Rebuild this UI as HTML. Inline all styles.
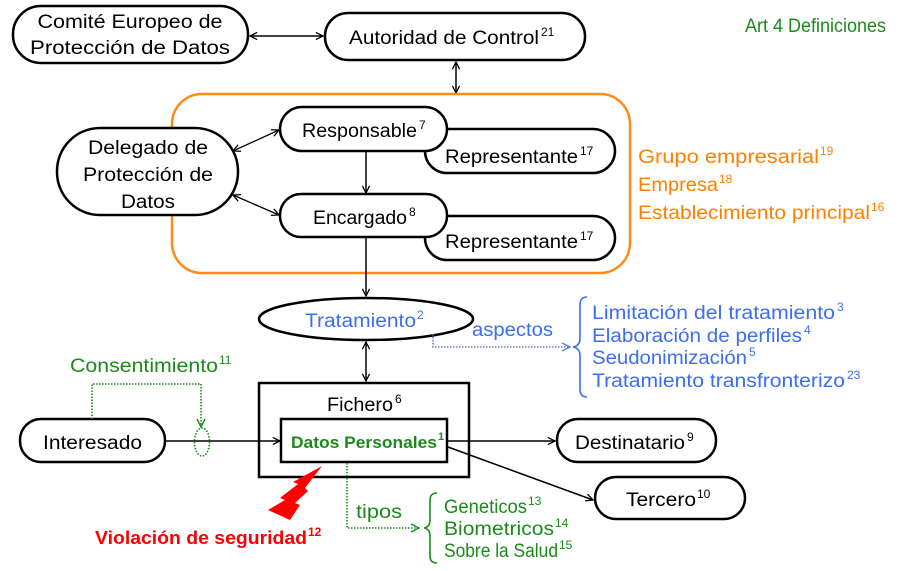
<!DOCTYPE html>
<html><head><meta charset="utf-8"><style>
html,body{margin:0;padding:0;background:#fff;}
svg{display:block;font-family:"Liberation Sans",sans-serif;}
</style></head><body>
<svg width="900" height="571" viewBox="0 0 900 571" xmlns="http://www.w3.org/2000/svg">
<defs>
<marker id="a" viewBox="0 0 10 10" refX="9" refY="5" markerWidth="9" markerHeight="9" orient="auto-start-reverse" markerUnits="userSpaceOnUse"><path d="M1,1 L9,5 L1,9" fill="none" stroke="#000" stroke-width="1.4"/></marker>
<marker id="g" viewBox="0 0 10 10" refX="9" refY="5" markerWidth="10" markerHeight="10" orient="auto" markerUnits="userSpaceOnUse"><path d="M1,1 L9,5 L1,9" fill="none" stroke="#1a8a1a" stroke-width="1.4"/></marker>
<marker id="b" viewBox="0 0 10 10" refX="9" refY="5" markerWidth="10" markerHeight="10" orient="auto" markerUnits="userSpaceOnUse"><path d="M1,1 L9,5 L1,9" fill="none" stroke="#5b7fc8" stroke-width="1.4"/></marker>
</defs>
<g font-size="19" lengthAdjust="spacingAndGlyphs">
<!-- top -->
<rect x="13" y="6" width="235" height="57" rx="28" fill="#fff" stroke="#000" stroke-width="2.5"/>
<text x="130" y="28" text-anchor="middle" textLength="185" lengthAdjust="spacingAndGlyphs">Comité Europeo de</text>
<text x="130" y="54" text-anchor="middle" textLength="200" lengthAdjust="spacingAndGlyphs">Protección de Datos</text>
<rect x="325" y="13" width="260" height="47" rx="23" fill="#fff" stroke="#000" stroke-width="2.5"/>
<text x="349" y="44" textLength="190" lengthAdjust="spacingAndGlyphs">Autoridad de Control</text><text x="541" y="36" font-size="12">21</text>
<line x1="250" y1="36" x2="323" y2="36" stroke="#000" stroke-width="1.5" marker-start="url(#a)" marker-end="url(#a)"/>
<line x1="456" y1="62" x2="456" y2="93" stroke="#000" stroke-width="1.5" marker-start="url(#a)" marker-end="url(#a)"/>
<text x="745" y="32" font-size="19" fill="#1a8a1a" textLength="141" lengthAdjust="spacingAndGlyphs">Art 4 Definiciones</text>

<!-- orange -->
<rect x="172" y="94" width="458" height="179" rx="30" fill="none" stroke="#ff8c1a" stroke-width="2.5"/>
<g fill="#ff8000">
<text x="638" y="163" textLength="181" lengthAdjust="spacingAndGlyphs">Grupo empresarial</text><text x="820" y="155" font-size="12">19</text>
<text x="638" y="191" textLength="80" lengthAdjust="spacingAndGlyphs">Empresa</text><text x="719" y="183" font-size="12">18</text>
<text x="638" y="219" textLength="232" lengthAdjust="spacingAndGlyphs">Establecimiento principal</text><text x="871" y="211" font-size="12">16</text>
</g>
<rect x="57" y="128" width="181" height="87" rx="43" fill="#fff" stroke="#000" stroke-width="2.5"/>
<text x="148" y="154" text-anchor="middle" textLength="120" lengthAdjust="spacingAndGlyphs">Delegado de</text>
<text x="148" y="181" text-anchor="middle" textLength="130" lengthAdjust="spacingAndGlyphs">Protección de</text>
<text x="148" y="208" text-anchor="middle" textLength="54" lengthAdjust="spacingAndGlyphs">Datos</text>

<rect x="425" y="129" width="190" height="44" rx="22" fill="#fff" stroke="#000" stroke-width="2.5"/>
<text x="445" y="163" textLength="133" lengthAdjust="spacingAndGlyphs">Representante</text><text x="580" y="155" font-size="12">17</text>
<rect x="280" y="107" width="167" height="44" rx="22" fill="#fff" stroke="#000" stroke-width="2.5"/>
<text x="302" y="137" textLength="115" lengthAdjust="spacingAndGlyphs">Responsable</text><text x="419" y="129" font-size="12">7</text>

<rect x="425" y="216" width="190" height="44" rx="22" fill="#fff" stroke="#000" stroke-width="2.5"/>
<text x="445" y="248" textLength="133" lengthAdjust="spacingAndGlyphs">Representante</text><text x="580" y="240" font-size="12">17</text>
<rect x="280" y="194" width="167" height="43" rx="21" fill="#fff" stroke="#000" stroke-width="2.5"/>
<text x="313" y="224" textLength="94" lengthAdjust="spacingAndGlyphs">Encargado</text><text x="409" y="216" font-size="12">8</text>

<line x1="233" y1="151" x2="279" y2="130" stroke="#000" stroke-width="1.3" marker-start="url(#a)" marker-end="url(#a)"/>
<line x1="233" y1="195" x2="279" y2="215" stroke="#000" stroke-width="1.3" marker-start="url(#a)" marker-end="url(#a)"/>
<line x1="366" y1="152" x2="366" y2="193" stroke="#000" stroke-width="1.5" marker-end="url(#a)"/>
<line x1="366" y1="238" x2="366" y2="296" stroke="#000" stroke-width="1.5" marker-end="url(#a)"/>

<!-- tratamiento -->
<ellipse cx="366" cy="319" rx="107" ry="21" fill="#fff" stroke="#000" stroke-width="2.5"/>
<text x="305" y="327" fill="#3d6ef0" textLength="111" lengthAdjust="spacingAndGlyphs">Tratamiento</text><text x="417" y="319" font-size="12" fill="#3d6ef0">2</text>
<line x1="366" y1="342" x2="366" y2="381" stroke="#000" stroke-width="1.5" marker-start="url(#a)" marker-end="url(#a)"/>
<polyline points="433,334 433,347 570,347" fill="none" stroke="#5b7fc8" stroke-width="1.6" stroke-dasharray="1.5,1.5" marker-end="url(#b)"/>
<text x="472" y="336" fill="#3d6ef0" textLength="81" lengthAdjust="spacingAndGlyphs">aspectos</text>
<path d="M587,297 Q580,297 580,305 L580,338 Q580,346 573,347 Q580,348 580,356 L580,389 Q580,397 587,397" fill="none" stroke="#3d6ef0" stroke-width="1.6"/>
<g fill="#3d6ef0">
<text x="592" y="319" textLength="243" lengthAdjust="spacingAndGlyphs">Limitación del tratamiento</text><text x="837" y="311" font-size="12">3</text>
<text x="592" y="342" textLength="210" lengthAdjust="spacingAndGlyphs">Elaboración de perfiles</text><text x="804" y="334" font-size="12">4</text>
<text x="592" y="364" textLength="155" lengthAdjust="spacingAndGlyphs">Seudonimización</text><text x="749" y="356" font-size="12">5</text>
<text x="592" y="387" textLength="253" lengthAdjust="spacingAndGlyphs">Tratamiento transfronterizo</text><text x="847" y="379" font-size="12">23</text>
</g>

<!-- fichero -->
<rect x="259" y="383" width="210" height="94" fill="#fff" stroke="#000" stroke-width="2.5"/>
<text x="327" y="411" textLength="66" lengthAdjust="spacingAndGlyphs">Fichero</text><text x="395" y="403" font-size="12">6</text>
<rect x="281" y="419" width="166" height="43" fill="#fff" stroke="#000" stroke-width="2.5"/>
<text x="291" y="448" font-size="17" font-weight="bold" fill="#1a8a1a" textLength="146" lengthAdjust="spacingAndGlyphs">Datos Personales</text><text x="438" y="440" font-size="11" font-weight="bold" fill="#1a8a1a">1</text>

<rect x="20" y="419" width="145" height="43" rx="21" fill="#fff" stroke="#000" stroke-width="2.5"/>
<text x="43" y="449" textLength="99" lengthAdjust="spacingAndGlyphs">Interesado</text>
<line x1="166" y1="441" x2="280" y2="441" stroke="#000" stroke-width="1.5" marker-end="url(#a)"/>
<ellipse cx="202" cy="442" rx="7.5" ry="14" fill="none" stroke="#1a8a1a" stroke-width="1.6" stroke-dasharray="1.5,1.5"/>
<polyline points="92,419 92,384 201,384 201,427" fill="none" stroke="#1a8a1a" stroke-width="1.6" stroke-dasharray="1.5,1.5" marker-end="url(#g)"/>
<text x="70" y="372" fill="#1a8a1a" textLength="148" lengthAdjust="spacingAndGlyphs">Consentimiento</text><text x="219" y="364" font-size="12" fill="#1a8a1a">11</text>

<rect x="557" y="419" width="159" height="43" rx="21" fill="#fff" stroke="#000" stroke-width="2.5"/>
<text x="575" y="449" textLength="110" lengthAdjust="spacingAndGlyphs">Destinatario</text><text x="687" y="441" font-size="12">9</text>
<line x1="448" y1="441" x2="555" y2="441" stroke="#000" stroke-width="1.5" marker-end="url(#a)"/>
<rect x="595" y="477" width="150" height="42" rx="21" fill="#fff" stroke="#000" stroke-width="2.5"/>
<text x="626" y="506" textLength="70" lengthAdjust="spacingAndGlyphs">Tercero</text><text x="697" y="498" font-size="12">10</text>
<line x1="448" y1="447" x2="593" y2="500" stroke="#000" stroke-width="1.5" marker-end="url(#a)"/>

<!-- tipos -->
<polyline points="347,463 347,528 419,528" fill="none" stroke="#1a8a1a" stroke-width="1.6" stroke-dasharray="1.5,1.5" marker-end="url(#g)"/>
<text x="356" y="518" fill="#1a8a1a" textLength="46" lengthAdjust="spacingAndGlyphs">tipos</text>
<path d="M437,493 Q430,493 430,500 L430,520 Q430,527 424,528 Q430,529 430,536 L430,556 Q430,563 437,563" fill="none" stroke="#1a8a1a" stroke-width="1.6"/>
<g fill="#1a8a1a">
<text x="444" y="513" textLength="83" lengthAdjust="spacingAndGlyphs">Geneticos</text><text x="528" y="505" font-size="12">13</text>
<text x="444" y="535" textLength="110" lengthAdjust="spacingAndGlyphs">Biometricos</text><text x="555" y="527" font-size="12">14</text>
<text x="444" y="557" textLength="114" lengthAdjust="spacingAndGlyphs">Sobre la Salud</text><text x="559" y="549" font-size="12">15</text>
</g>

<!-- lightning -->
<polygon points="322,466 293,482 298,484 280,498 285,500 268,510 290,520 300,505 295,503 308,491 305,488" fill="#ff0000"/>
<text x="95" y="544" font-size="18" font-weight="bold" fill="#ff0000" textLength="212" lengthAdjust="spacingAndGlyphs">Violación de seguridad</text><text x="308" y="536" font-size="12" font-weight="bold" fill="#ff0000">12</text>
</g>
</svg>
</body></html>
